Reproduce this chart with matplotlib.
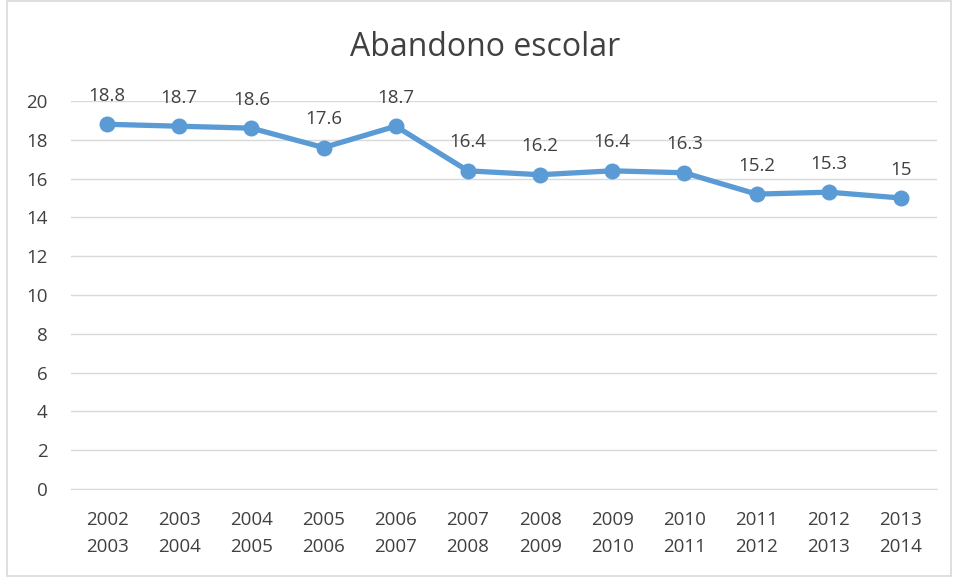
import matplotlib
matplotlib.use("Agg")
import matplotlib.pyplot as plt
from matplotlib.patches import Rectangle

plt.rcParams['font.family'] = ['Open Sans', 'DejaVu Sans']

categories = ["2002\n2003", "2003\n2004", "2004\n2005", "2005\n2006", "2006\n2007", "2007\n2008",
              "2008\n2009", "2009\n2010", "2010\n2011", "2011\n2012", "2012\n2013", "2013\n2014"]
values = [18.8, 18.7, 18.6, 17.6, 18.7, 16.4, 16.2, 16.4, 16.3, 15.2, 15.3, 15.0]
labels = ["18.8", "18.7", "18.6", "17.6", "18.7", "16.4", "16.2", "16.4", "16.3", "15.2", "15.3", "15"]
yticks = [0, 2, 4, 6, 8, 10, 12, 14, 16, 18, 20]

W, H = 954, 577
fig = plt.figure(figsize=(W / 100, H / 100), dpi=100)
ax = fig.add_axes([71 / W, 1 - 489 / H, (937 - 71) / W, (489 - 101) / H])

color = "#5B9BD5"
text_color = "#404040"
x = list(range(len(categories)))
ax.plot(x, values, color=color, linewidth=3.8, marker="o", markersize=10.5, zorder=3)
for xi, v, lab in zip(x, values, labels):
    ax.annotate(lab, (xi, v), xytext=(0, 14), textcoords="offset points",
                ha="center", va="bottom", fontsize=13.5, color=text_color)

ax.set_xlim(-0.5, len(categories) - 0.5)
ax.set_ylim(0, 20)
ax.set_yticks(yticks)
ax.set_yticklabels([str(t) for t in yticks])
ax.set_xticks(x)
ax.set_xticklabels(categories, linespacing=1.6)
ax.tick_params(axis="both", length=0, labelsize=13.5, colors=text_color)
ax.tick_params(axis="x", pad=16)
ax.tick_params(axis="y", pad=17)
ax.grid(axis="y", color="#D9D9D9", linewidth=1)
ax.set_axisbelow(True)
for s in ["top", "right", "left"]:
    ax.spines[s].set_visible(False)
ax.spines["bottom"].set_color("#D9D9D9")

fig.text(485 / W, 1 - 48 / H, "Abandono escolar", ha="center", va="center",
         fontsize=23, color=text_color)

fig.patches.append(Rectangle((7.5 / W, 1.5 / H), (951 - 7.5) / W, 1 - 2.5 / H, transform=fig.transFigure,
                             fill=False, edgecolor="#D9D9D9", linewidth=1.2))

fig.savefig("out.png", dpi=100)
